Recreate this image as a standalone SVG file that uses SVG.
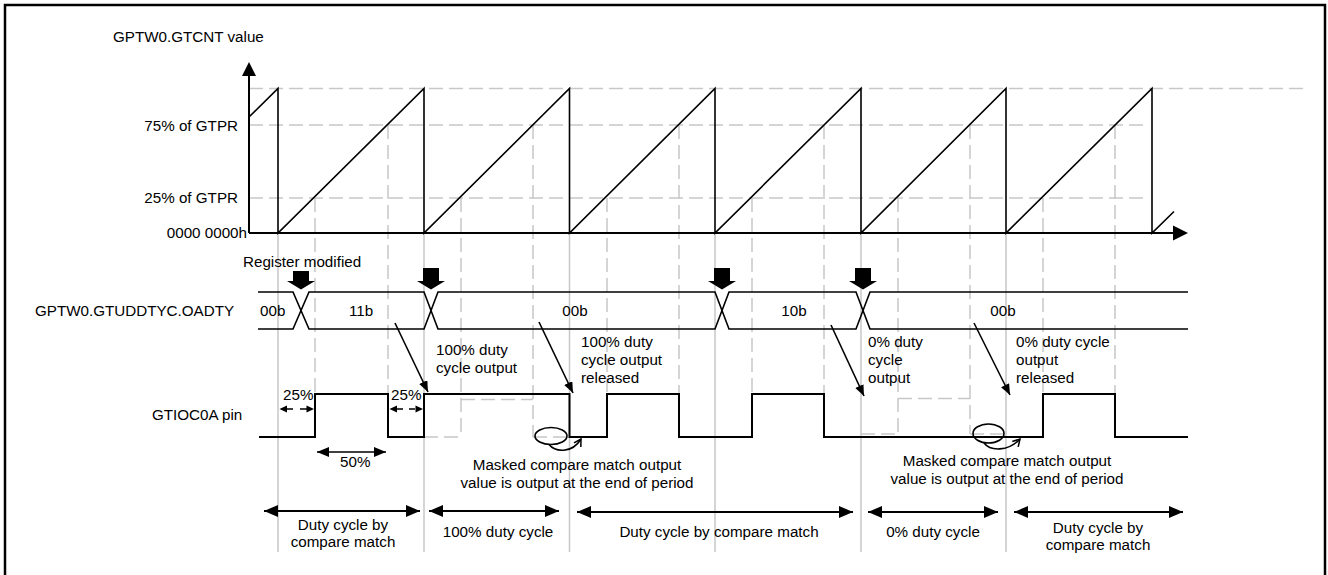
<svg xmlns="http://www.w3.org/2000/svg" width="1328" height="575" viewBox="0 0 1328 575">
<style>
text{font-family:"Liberation Sans",Arial,sans-serif;font-size:15.2px;fill:#000}
.g{stroke:#c8c8c8;stroke-width:1.5;fill:none}
.gd{stroke:#c8c8c8;stroke-width:1.5;fill:none;stroke-dasharray:14 6}
.k{stroke:#000;stroke-width:1.6;fill:none}
.kw{stroke:#000;stroke-width:2;fill:none}
.f{fill:#000;stroke:none}
.m{text-anchor:middle}
.e{text-anchor:end}
</style>
<defs>
<marker id="tri" markerUnits="userSpaceOnUse" markerWidth="12" markerHeight="10" refX="11" refY="4.5" orient="auto"><path d="M0,0 L11,4.5 L0,9 z" fill="#000"/></marker>
<marker id="big" markerUnits="userSpaceOnUse" markerWidth="15" markerHeight="13" refX="14" refY="6" orient="auto-start-reverse"><path d="M0,0 L14,6 L0,12 z" fill="#000"/></marker>
<marker id="mid" markerUnits="userSpaceOnUse" markerWidth="13" markerHeight="11" refX="12" refY="5" orient="auto-start-reverse"><path d="M0,0 L12,5 L0,10 z" fill="#000"/></marker>
<marker id="open" markerUnits="userSpaceOnUse" markerWidth="10" markerHeight="10" refX="8" refY="5" orient="auto"><path d="M1,1 L8,5 L1,9" fill="none" stroke="#000" stroke-width="1.5"/></marker>
</defs>
<rect x="0" y="0" width="1328" height="575" fill="#fff"/>
<path id="frame" d="M5,590 V5 H1325 V590" fill="none" stroke="#000" stroke-width="2.5"/>

<g id="grid">
<path class="gd" d="M249 88.5 H1305 M249 125 H1143 M249 198 H1143"/>
<path class="gd" d="M315 198 V394 M461 198 V437 M607 198 V394 M752 198 V394 M898 198 V434 M1043 198 V394"/>
<path class="gd" d="M388 125 V394 M533 125 V437 M679 125 V394 M824 125 V394 M970 125 V434 M1115 125 V394"/>
<path class="gd" d="M424 437 H461 M461 399.5 H533 M533 437 H569.5 M861 434 H898 M898 398.5 H970 M970 434 H1006"/>
<path class="g" d="M278 233 V552 M424 233 V552 M569.5 233 V552 M715 233 V552 M861 233 V552 M1006 233 V552"/>
</g>

<g id="counter-chart">
<path class="k" d="M249 117 L278 88.5 V233 L424 88.5 V233 L569.5 88.5 V233 L715 88.5 V233 L861 88.5 V233 L1006 88.5 V233 L1152 88.5 V233 L1174 211.5"/>
<path class="kw" d="M249 233 V74 M249 233 H1175"/>
<polygon class="f" points="242,76 256,76 249,62"/>
<polygon class="f" points="1173,225.5 1188,233 1173,240.5"/>
<text x="113" y="42">GPTW0.GTCNT value</text>
<text class="e" x="238" y="131">75% of GTPR</text>
<text class="e" x="238" y="203">25% of GTPR</text>
<text class="e" x="247" y="238">0000 0000h</text>
</g>

<g id="register-row">
<path class="k" d="M258 292 H293 L309 329 H424 L438 292 H715 L729 329 H856 L870 292 H1188"/>
<path class="k" d="M258 329 H293 L309 292 H424 L438 329 H715 L729 292 H856 L870 329 H1188"/>
<text x="35" y="316">GPTW0.GTUDDTYC.OADTY</text>
<text x="260" y="316">00b</text>
<text x="349" y="316">11b</text>
<text class="m" x="575" y="316">00b</text>
<text class="m" x="794" y="316">10b</text>
<text class="m" x="1003" y="316">00b</text>
<text x="243" y="267">Register modified</text>
</g>

<g id="write-markers">
<polygon class="f" points="293,271 309,271 309,281 315,281 301,289.5 287,281 293,281"/>
<polygon class="f" points="423,268 439,268 439,281 445,281 431,289.5 417,281 423,281"/>
<polygon class="f" points="714,268 730,268 730,281 736,281 722,289.5 708,281 714,281"/>
<polygon class="f" points="855,268 871,268 871,281 877,281 863,289.5 849,281 855,281"/>
</g>

<g id="pin">
<path class="kw" d="M259 437 H315 V394 H388 V437 H424 V394 H569.5 V437 H607 V394 H679 V437 H752 V394 H824 V437 H1043 V394 H1115 V437 H1188"/>
<text x="152" y="420">GTIOC0A pin</text>
</g>

<g id="connectors">
<path class="k" d="M395 323 L428 392" marker-end="url(#tri)"/>
<path class="k" d="M539 322 L573 393" marker-end="url(#tri)"/>
<path class="k" d="M831 325 L864 396" marker-end="url(#tri)"/>
<path class="k" d="M974 323 L1010 395" marker-end="url(#tri)"/>
<path class="k" d="M286 409 H293 M300 409 H307 M397 409 H403 M409 409 H415"/>
<polygon class="f" points="279.5,409 287,405.5 287,412.5"/>
<polygon class="f" points="314,409 306.5,405.5 306.5,412.5"/>
<polygon class="f" points="389.5,409 397,405.5 397,412.5"/>
<polygon class="f" points="423,409 415.5,405.5 415.5,412.5"/>
<path class="k" d="M317 452 H386" marker-start="url(#mid)" marker-end="url(#mid)"/>
<ellipse class="k" cx="551" cy="436" rx="16" ry="8.5"/>
<path class="k" d="M549 444.5 C555 452 572 454 581 439" marker-end="url(#open)"/>
<ellipse class="k" cx="988.5" cy="433.5" rx="15.5" ry="9.5"/>
<path class="k" d="M984 443 C990 451 1008 452 1020 439" marker-end="url(#open)"/>
<path class="kw" d="M264 511 H420" marker-start="url(#big)" marker-end="url(#big)"/>
<path class="kw" d="M429 511 H559" marker-start="url(#big)" marker-end="url(#big)"/>
<path class="kw" d="M577 512 H853" marker-start="url(#big)" marker-end="url(#big)"/>
<path class="kw" d="M868 512 H998" marker-start="url(#big)" marker-end="url(#big)"/>
<path class="kw" d="M1014 512 H1183" marker-start="url(#big)" marker-end="url(#big)"/>
</g>

<g id="labels">
<text x="283" y="400">25%</text>
<text x="391" y="400">25%</text>
<text x="340" y="467">50%</text>
<text x="436" y="355">100% duty</text>
<text x="436" y="373">cycle output</text>
<text x="581" y="347">100% duty</text>
<text x="581" y="365">cycle output</text>
<text x="581" y="383">released</text>
<text x="868" y="347">0% duty</text>
<text x="868" y="365">cycle</text>
<text x="868" y="383">output</text>
<text x="1016" y="347">0% duty cycle</text>
<text x="1016" y="365">output</text>
<text x="1016" y="383">released</text>
<text class="m" x="577" y="470">Masked compare match output</text>
<text class="m" x="577" y="488">value is output at the end of period</text>
<text class="m" x="1007" y="466">Masked compare match output</text>
<text class="m" x="1007" y="484">value is output at the end of period</text>
<text class="m" x="343" y="530">Duty cycle by</text>
<text class="m" x="343" y="547">compare match</text>
<text class="m" x="498" y="537">100% duty cycle</text>
<text class="m" x="719" y="537">Duty cycle by compare match</text>
<text class="m" x="933" y="537">0% duty cycle</text>
<text class="m" x="1098" y="533">Duty cycle by</text>
<text class="m" x="1098" y="550">compare match</text>
</g>
</svg>
